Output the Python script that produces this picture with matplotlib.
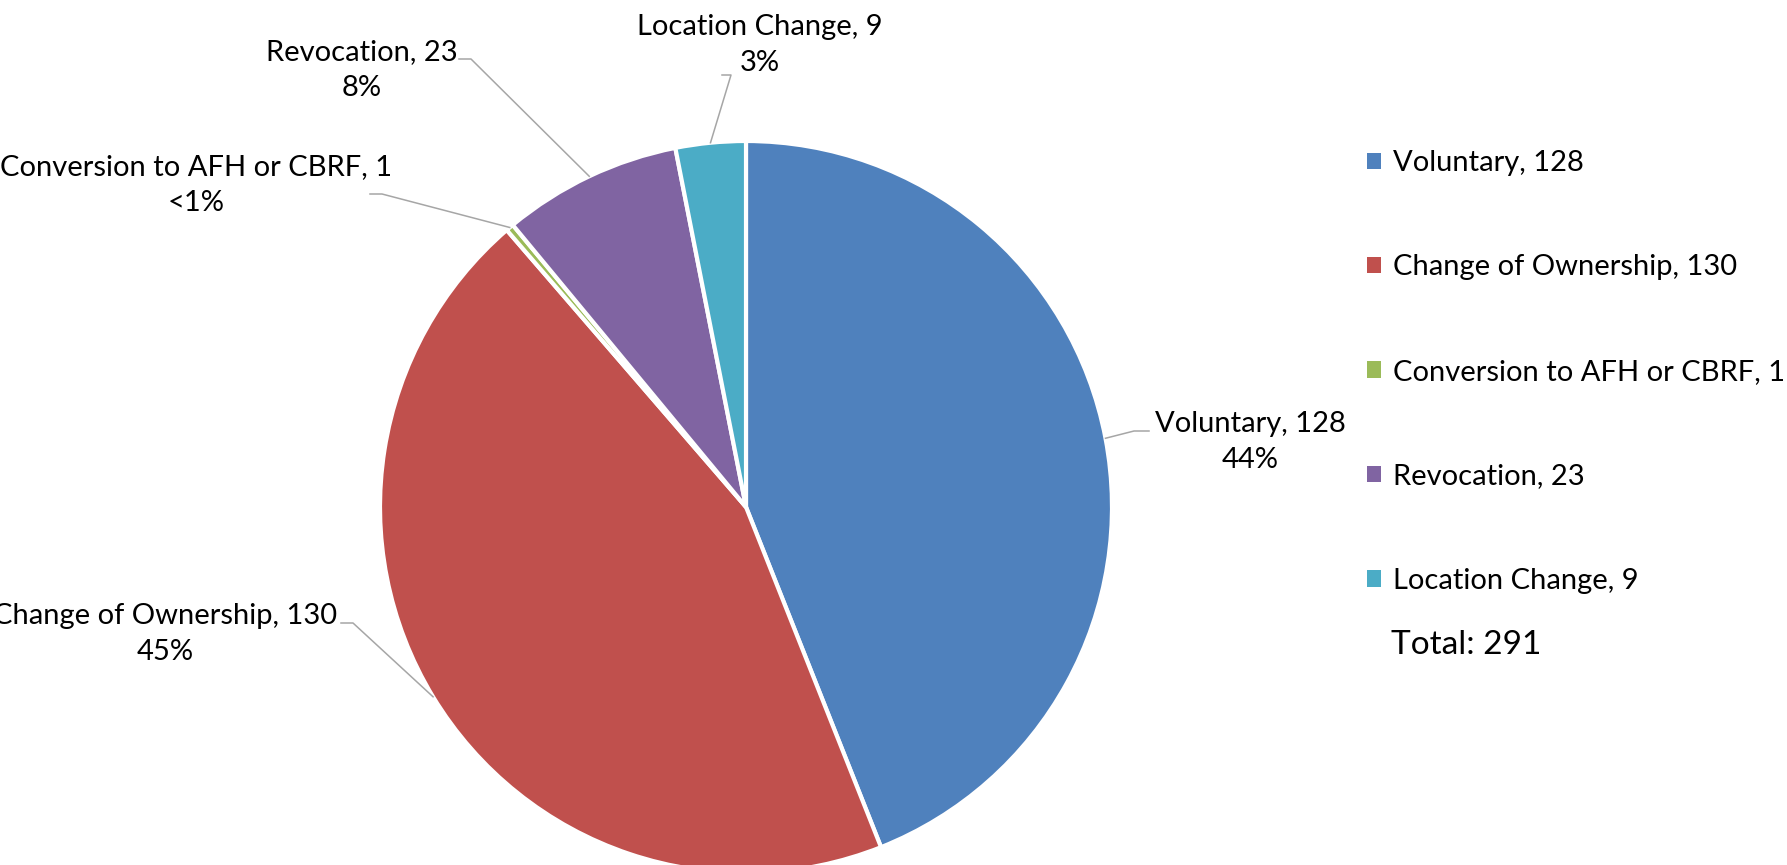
import matplotlib.pyplot as plt
import numpy as np
from matplotlib.patches import Patch

categories = ['Voluntary', 'Change of Ownership', 'Conversion to AFH or CBRF', 'Revocation', 'Location Change']
counts = [128, 130, 1, 23, 9]
colors = ['#4F81BD', '#C0504D', '#9BBB59', '#8064A2', '#4BACC6']

W, H = 1787, 865
plt.rcParams['font.family'] = ['Lato', 'DejaVu Sans']


def Y(y):
    # layout measured top-down in pixels, axes is bottom-up
    return H - y


def pct_text(v, total):
    p = 100.0 * v / total
    return '<1%' if p < 1 else f'{p:.0f}%'


fig = plt.figure(figsize=(W / 100, H / 100), dpi=100)
ax = fig.add_axes([0, 0, 1, 1])

cx, cy, r = 746, Y(507), 366
wedges, _ = ax.pie(counts, colors=colors, startangle=90, counterclock=False,
                   center=(cx, cy), radius=r,
                   wedgeprops=dict(edgecolor='white', linewidth=3))
ax.set_xlim(0, W)
ax.set_ylim(0, H)
ax.set_aspect('auto')
ax.axis('off')

total = sum(counts)

# label layout: (text centre x, text centre y, elbow x, elbow y, end x)
label_layout = [
    (1250, 442, 1134, 431, 1149),
    (165, 634, 353, 623, 341),
    (196, 185, 382, 194, 370),
    (362, 70, 471, 59, 459),
    (760, 45, 731, 75, 722),
]

line_col = '#A6A6A6'
for w, name, v, (tx, ty, ex, ey, endx) in zip(wedges, categories, counts, label_layout):
    mid = np.deg2rad((w.theta1 + w.theta2) / 2)
    ax_, ay_ = cx + r * np.cos(mid), cy + r * np.sin(mid)
    ax.plot([ax_, ex, endx], [ay_, Y(ey), Y(ey)], color=line_col, lw=1.1)
    ax.text(tx, Y(ty), f'{name}, {v}\n{pct_text(v, total)}', ha='center', va='center',
            fontsize=21, linespacing=1.45)

handles = [Patch(facecolor=c, edgecolor='none') for c in colors]
legend_labels = [f'{n}, {v}' for n, v in zip(categories, counts)]
ax.legend(handles, legend_labels, loc='upper left', bbox_to_anchor=(1367 / W, Y(150) / H),
          frameon=False, fontsize=21, handlelength=0.48, handleheight=0.48,
          handletextpad=0.4, labelspacing=2.69, borderpad=0, borderaxespad=0)
ax.text(1391, Y(645), f'Total: {total}', fontsize=24, va='center')

fig.savefig('out.png', dpi=100)
